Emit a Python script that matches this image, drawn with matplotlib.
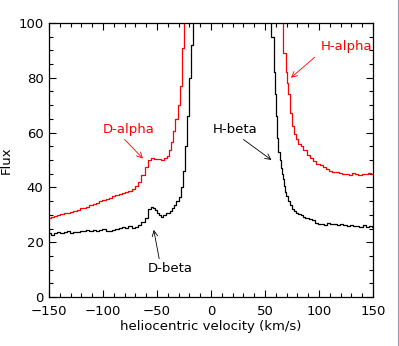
import matplotlib
matplotlib.use('Agg')
import matplotlib.pyplot as plt
from matplotlib.lines import Line2D

# H-alpha (red) spectrum; core is off scale
v_alpha = [-150, -147, -144, -141, -138, -135, -132, -129, -126, -123,
           -120, -117, -114, -111, -108, -105, -102, -99, -96, -93,
           -90, -87, -84, -81, -78, -75, -72, -69, -66, -63,
           -60, -57, -54, -51, -48, -45, -42, -40, -38, -36,
           -34, -32, -30, -28, -26, -24, -20, 0, 40, 60,
           64, 66, 68, 70, 71, 72, 74, 76, 78, 80,
           82, 84, 87, 90, 93, 96, 99, 102, 105, 108,
           111, 114, 117, 120, 123, 126, 129, 132, 135, 138,
           141, 144, 147, 150]
f_alpha = [29.0, 29.2, 29.5, 29.8, 30.2, 30.5, 30.8, 31.0, 31.4, 31.8,
           32.3, 32.6, 33.0, 33.4, 33.8, 34.3, 34.9, 35.3, 35.9, 36.3,
           36.9, 37.3, 37.5, 37.9, 38.4, 38.7, 39.4, 40.4, 41.8, 44.5,
           47.5, 50.0, 50.6, 50.4, 50.3, 50.1, 50.8, 51.5, 53.5, 56.5,
           60.5, 65.0, 70.0, 77.0, 91.0, 120.0, 150.0, 150.0, 150.0, 150.0,
           130.0, 101.0, 89.0, 82.0, 78.0, 74.0, 67.0, 62.5, 59.5, 57.5,
           56.0, 55.0, 53.5, 52.0, 50.6, 49.5, 48.7, 48.0, 47.3, 46.6,
           46.0, 45.6, 45.5, 45.2, 44.8, 45.0, 44.7, 45.1, 44.8, 44.6,
           45.0, 44.8, 45.1, 45.0]

# H-beta (black) spectrum
v_beta = [-150, -147, -144, -141, -138, -135, -132, -129, -126, -123,
          -120, -117, -114, -111, -108, -105, -102, -99, -96, -93,
          -90, -87, -84, -81, -78, -75, -72, -69, -66, -63,
          -60, -57, -55, -53, -51, -49, -47, -45, -43, -41,
          -39, -37, -35, -33, -31, -29, -27, -25, -23, -21,
          -19, -18, -16, -10, 20, 50, 55, 57, 59, 60,
          61, 62, 63, 64, 65, 66, 67, 68, 69, 70,
          72, 74, 76, 78, 80, 82, 84, 86, 88, 90,
          92, 95, 98, 100, 103, 106, 109, 112, 115, 118,
          121, 124, 127, 130, 133, 136, 139, 142, 145, 148, 150]
f_beta = [23.3, 22.8, 23.5, 23.9, 23.4, 23.8, 24.0, 23.5, 23.9, 23.6,
          24.2, 24.0, 24.3, 24.1, 24.5, 24.0, 24.4, 24.7, 24.2, 24.0,
          24.6, 25.0, 25.2, 25.6, 25.3, 25.8, 25.2, 25.6, 26.2, 27.2,
          29.0, 32.0, 33.0, 32.5, 31.8, 30.8, 30.0, 29.3, 30.0, 30.6,
          30.8, 31.5, 32.5, 33.5, 35.0, 36.5, 40.0, 46.0, 55.0, 66.0,
          80.0, 92.0, 130.0, 150.0, 150.0, 150.0, 115.0, 95.0, 82.0, 74.0,
          66.0, 58.0, 53.0, 50.0, 47.0, 45.0, 43.0, 40.5, 38.5, 37.0,
          35.0, 33.5, 32.2, 31.5, 30.8, 30.3, 29.8, 29.3, 29.0, 28.9,
          28.5, 28.0, 27.0, 26.6, 26.8, 26.4, 26.9, 26.5, 26.8, 26.2,
          26.6, 26.3, 25.9, 26.4, 25.8, 26.0, 25.7, 26.1, 25.6, 25.9, 25.5]

fig = plt.figure(figsize=(3.99, 3.46), dpi=100)
ax = fig.add_axes([49 / 399, 49 / 346, 324 / 399, 274 / 346])

ax.plot(v_alpha, f_alpha, color='#ff0000', lw=0.9, drawstyle='steps-mid')
ax.plot(v_beta, f_beta, color='black', lw=0.9, drawstyle='steps-mid')

ax.set_xlim(-150, 150)
ax.set_ylim(0, 100)
ax.set_xticks([-150, -100, -50, 0, 50, 100, 150])
ax.set_yticks([0, 20, 40, 60, 80, 100])
ax.set_xticks(range(-150, 151, 10), minor=True)
ax.set_yticks(range(0, 101, 5), minor=True)
ax.tick_params(which='both', direction='in', top=True, right=True, labelsize=9.5)
ax.tick_params(which='major', length=5, width=0.8)
ax.tick_params(which='minor', length=3, width=0.8)
ax.tick_params(axis='x', pad=6)
ax.tick_params(axis='y', pad=4)
for s in ax.spines.values():
    s.set_linewidth(0.9)

ax.set_xlabel('heliocentric velocity (km/s)', fontsize=9.5, labelpad=1)
ax.set_ylabel('Flux', fontsize=9.5, labelpad=4)

arrow = dict(arrowstyle='->', lw=0.6, shrinkA=0, shrinkB=0)
ax.annotate('', xy=(-63, 50.5), xytext=(-80, 57.5),
            arrowprops=dict(arrow, color='#ff0000'))
ax.text(-100, 60, 'D-alpha', color='#ff0000', fontsize=9.5)
ax.annotate('', xy=(-53, 24.5), xytext=(-48, 14),
            arrowprops=dict(arrow, color='black'))
ax.text(-59, 9, 'D-beta', color='black', fontsize=9.5)
ax.annotate('', xy=(56, 50), xytext=(30, 57.5),
            arrowprops=dict(arrow, color='black'))
ax.text(2, 60, 'H-beta', color='black', fontsize=9.5)
ax.annotate('', xy=(74, 80), xytext=(96, 87.5),
            arrowprops=dict(arrow, color='#ff0000'))
ax.text(102, 90, 'H-alpha', color='#ff0000', fontsize=9.5)

# thin border at the right edge of the image
fig.add_artist(Line2D([398.3 / 399, 398.3 / 399], [0, 1], color='#9c9ab0', lw=0.8))

fig.savefig('out.png', dpi=100)
